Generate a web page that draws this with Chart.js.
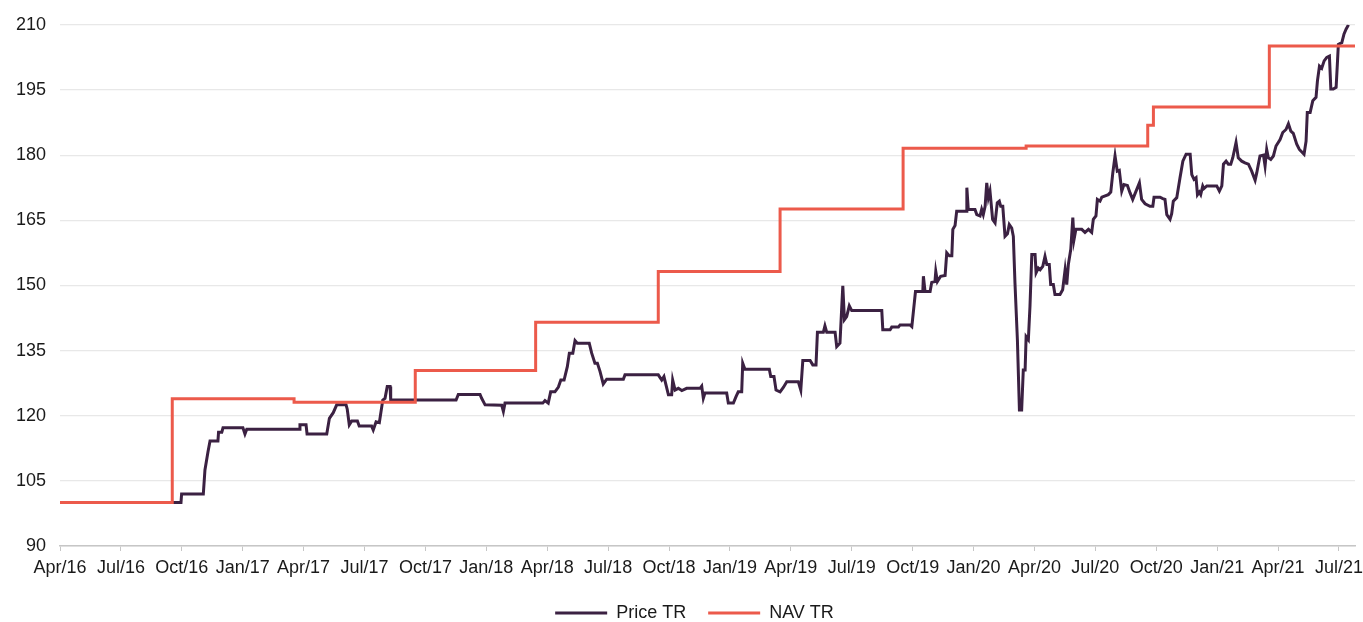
<!DOCTYPE html>
<html>
<head>
<meta charset="utf-8">
<script src="https://cdn.jsdelivr.net/npm/chart.js@4/dist/chart.umd.min.js"></script>
<style>
  html, body { margin: 0; padding: 0; background: #fff; }
  #wrap { width: 1363px; height: 622px; }
</style>
</head>
<body>
<div id="wrap"><canvas id="myChart"></canvas></div>
<script>
// x values are months counted from 1 Apr 2016
const tickLabels = ['Apr/16', 'Jul/16', 'Oct/16', 'Jan/17', 'Apr/17', 'Jul/17', 'Oct/17', 'Jan/18',
  'Apr/18', 'Jul/18', 'Oct/18', 'Jan/19', 'Apr/19', 'Jul/19', 'Oct/19', 'Jan/20', 'Apr/20',
  'Jul/20', 'Oct/20', 'Jan/21', 'Apr/21', 'Jul/21'];

const priceMonths = [
  0, 5.96, 5.99, 7.06, 7.14, 7.29, 7.39, 7.78, 7.81, 7.97,
  8.03, 9.01, 9.11, 9.20, 11.79, 11.82, 12.12, 12.17, 13.14, 13.27,
  13.46, 13.63, 14.09, 14.15, 14.25, 14.37, 14.65, 14.74, 15.35, 15.43,
  15.57, 15.73, 15.90, 16.01, 16.12, 16.26, 16.29, 19.51, 19.62, 20.69,
  20.77, 20.94, 21.76, 21.84, 21.92, 23.78, 23.89, 24.05, 24.17, 24.38,
  24.55, 24.67, 24.83, 24.99, 25.09, 25.26, 25.37, 25.48, 26.07, 26.19,
  26.35, 26.47, 26.60, 26.76, 26.93, 27.75, 27.83, 29.47, 29.64, 29.75,
  29.85, 29.97, 30.13, 30.18, 30.30, 30.46, 30.63, 30.87, 31.53, 31.61,
  31.69, 31.77, 32.84, 32.92, 33.17, 33.30, 33.41, 33.58, 33.63, 33.74,
  34.94, 35.01, 35.17, 35.27, 35.47, 35.63, 35.80, 36.37, 36.49, 36.59,
  36.95, 37.08, 37.24, 37.31, 37.60, 37.68, 37.77, 38.18, 38.26, 38.42,
  38.56, 38.64, 38.75, 38.88, 39.00, 40.48, 40.53, 40.89, 40.97, 41.30,
  41.38, 41.87, 41.96, 42.14, 42.50, 42.53, 42.61, 42.86, 42.94, 43.10,
  43.14, 43.22, 43.38, 43.60, 43.68, 43.81, 43.93, 43.98, 44.09, 44.17,
  44.63, 44.67, 44.74, 45.07, 45.16, 45.32, 45.40, 45.48, 45.57, 45.65,
  45.73, 45.81, 45.94, 46.06, 46.17, 46.27, 46.34, 46.44, 46.55, 46.67,
  46.76, 46.88, 46.96, 47.04, 47.16, 47.26, 47.37, 47.45, 47.54, 47.59,
  47.70, 47.78, 47.87, 48.03, 48.08, 48.19, 48.28, 48.41, 48.52, 48.61,
  48.73, 48.80, 48.93, 49.01, 49.26, 49.39, 49.51, 49.59, 49.67, 49.79,
  49.89, 49.95, 50.04, 50.33, 50.49, 50.66, 50.82, 50.90, 51.03, 51.10,
  51.23, 51.32, 51.64, 51.76, 51.86, 51.97, 52.08, 52.18, 52.30, 52.41,
  52.58, 52.71, 52.84, 53.04, 53.17, 53.28, 53.45, 53.69, 53.83, 53.89,
  54.19, 54.32, 54.43, 54.52, 54.68, 54.76, 54.84, 55.01, 55.17, 55.31,
  55.47, 55.67, 55.75, 55.86, 55.96, 56.03, 56.12, 56.19, 56.29, 56.35,
  56.49, 56.98, 57.11, 57.23, 57.31, 57.44, 57.55, 57.67, 57.77, 57.93,
  58.04, 58.21, 58.37, 58.54, 58.70, 58.87, 58.95, 59.03, 59.11, 59.28,
  59.36, 59.44, 59.52, 59.64, 59.77, 59.90, 60.10, 60.23, 60.39, 60.51,
  60.63, 60.75, 60.92, 61.05, 61.28, 61.38, 61.44, 61.58, 61.71, 61.87,
  61.94, 62.04, 62.15, 62.27, 62.40, 62.53, 62.60, 62.72, 62.86, 62.92,
  62.97, 63.14, 63.25, 63.35, 63.47
];
const priceValues = [
  100, 100, 102.0, 102.0, 107.5, 111.7, 114.2, 114.2, 116.2, 116.2,
  117.2, 117.2, 115.8, 116.9, 116.9, 117.9, 117.9, 115.8, 115.8, 119.4,
  120.7, 122.5, 122.5, 121.5, 117.9, 118.8, 118.8, 117.6, 117.6, 116.7,
  118.6, 118.4, 123.6, 124.0, 126.7, 126.7, 123.6, 123.6, 124.9, 124.9,
  124.0, 122.5, 122.4, 121.0, 122.9, 122.9, 123.5, 122.9, 125.5, 125.5,
  126.6, 128.2, 128.2, 131.3, 134.4, 134.4, 137.3, 136.7, 136.7, 134.4,
  132.1, 132.1, 130.2, 127.3, 128.4, 128.4, 129.4, 129.4, 128.2, 129.0,
  127.1, 124.8, 124.8, 128.2, 125.9, 126.3, 125.8, 126.3, 126.3, 126.8,
  124.0, 125.2, 125.2, 122.9, 122.9, 124.4, 125.5, 125.5, 132.1, 130.7,
  130.7, 129.0, 129.0, 125.9, 125.5, 126.5, 127.8, 127.8, 125.9, 132.7,
  132.7, 131.7, 131.7, 139.2, 139.2, 140.7, 139.2, 139.2, 135.9, 136.7,
  149.9, 142.1, 142.8, 145.3, 144.2, 144.2, 139.8, 139.8, 140.4, 140.4,
  140.9, 140.9, 140.5, 148.6, 148.6, 152.1, 148.6, 148.6, 150.7, 150.9,
  153.2, 150.9, 152.1, 152.3, 157.5, 156.8, 156.8, 162.9, 163.8, 167.1,
  167.1, 172.5, 167.5, 167.5, 166.3, 166.0, 167.5, 166.3, 168.2, 173.6,
  170.2, 171.7, 165.2, 164.4, 169.0, 169.4, 168.2, 168.2, 161.3, 161.9,
  164.0, 163.2, 161.3, 150.6, 137.5, 121.3, 121.3, 130.5, 130.5, 138.2,
  137.5, 145.2, 157.1, 157.1, 152.9, 154.0, 153.6, 154.4, 156.7, 154.8,
  154.8, 150.2, 150.2, 147.9, 147.9, 149.0, 153.6, 150.2, 154.8, 158.3,
  165.6, 160.6, 162.9, 162.9, 162.2, 162.9, 162.2, 165.2, 166.0, 169.8,
  169.4, 170.3, 170.9, 171.5, 175.9, 179.8, 176.3, 176.5, 171.7, 173.2,
  173.0, 171.3, 169.8, 172.1, 173.6, 169.8, 168.8, 168.2, 168.2, 170.3,
  170.3, 170.0, 169.8, 166.3, 165.2, 166.5, 169.4, 170.2, 174.8, 178.6,
  180.2, 180.2, 175.5, 174.4, 174.8, 170.9, 171.5, 170.9, 172.9, 172.3,
  172.9, 172.9, 171.7, 172.9, 177.9, 178.6, 177.9, 177.9, 179.4, 182.9,
  179.4, 178.6, 178.2, 177.9, 176.3, 174.2, 175.9, 177.9, 179.8, 180.0,
  177.5, 181.3, 179.4, 179.0, 179.8, 182.1, 183.6, 185.2, 185.9, 187.2,
  185.5, 185.0, 182.5, 181.3, 180.2, 183.2, 189.8, 189.8, 192.5, 193.3,
  197.1, 200.5, 200.0, 201.7, 202.5, 202.8, 195.2, 195.2, 195.6, 200.9,
  205.5, 205.9, 207.9, 209.0, 210.0
];

// NAV TR is a step series: each entry is the month the new level starts
const navMonths = [0, 5.53, 11.53, 17.50, 23.43, 29.47, 35.47, 41.53, 47.59, 53.58, 53.86, 59.57, 63.79];
const navValues = [100, 123.9, 123.1, 130.4, 141.5, 153.2, 167.6, 181.6, 182.1, 186.9, 191.1, 205.1, 205.1];

const toPoints = (xs, ys) => xs.map((x, i) => ({ x: x, y: ys[i] }));

const font = { family: "'Liberation Sans', Arial, sans-serif", size: 18 };

// legend: keep wide gaps between items but a short box, nudged to the right
const legendTweak = {
  id: 'legendTweak',
  afterInit(chart) {
    const lg = chart.legend;
    const fit = lg.fit;
    lg.fit = function () { fit.call(this); this.height = 40; };
  },
  afterLayout(chart) {
    chart.legend.left += 17;
    chart.legend.right += 17;
  },
};

const ctx = document.getElementById('myChart');
const myChart = new Chart(ctx, {
  type: 'line',
  data: {
    datasets: [
      {
        label: 'Price TR',
        data: toPoints(priceMonths, priceValues),
        borderColor: '#3b2142',
        backgroundColor: '#3b2142',
        borderWidth: 3,
        pointRadius: 0,
        tension: 0,
        order: 1,
      },
      {
        label: 'NAV TR',
        data: toPoints(navMonths, navValues),
        borderColor: '#ec5a4b',
        backgroundColor: '#ec5a4b',
        borderWidth: 3,
        pointRadius: 0,
        stepped: 'before',
        order: 0,
      },
    ],
  },
  options: {
    responsive: true,
    maintainAspectRatio: false,
    animation: false,
    layout: { padding: { top: 22, right: 8, left: 0, bottom: 0 } },
    scales: {
      x: {
        type: 'linear',
        min: 0,
        max: 63.79,
        border: { color: '#c6c6c6', width: 1.5 },
        grid: { display: true, drawOnChartArea: false, drawTicks: true, tickLength: 5, color: '#c6c6c6' },
        ticks: {
          stepSize: 3,
          includeBounds: false,
          autoSkip: false,
          maxRotation: 0,
          color: '#1a1a1a',
          font: font,
          padding: 6,
          callback: (v) => tickLabels[Math.round(v / 3)],
        },
        afterFit: (s) => { s.height = 36; s.paddingLeft = 0; s.paddingRight = 0; },
      },
      y: {
        min: 90,
        max: 210,
        border: { display: false },
        grid: { color: '#e8e8e8', drawTicks: false, lineWidth: 1.2 },
        ticks: { stepSize: 15, color: '#1a1a1a', font: font, padding: 14 },
        afterFit: (s) => { s.width = 60; },
      },
    },
    plugins: {
      tooltip: { enabled: false },
      legend: {
        position: 'bottom',
        labels: {
          font: font,
          color: '#1a1a1a',
          boxWidth: 52,
          boxHeight: 3,
          padding: 22,
          sort: (a, b) => a.datasetIndex - b.datasetIndex,
          generateLabels: (chart) => {
            const items = Chart.defaults.plugins.legend.labels.generateLabels(chart);
            items.forEach((it) => { it.lineWidth = 0; it.fillStyle = it.strokeStyle; });
            return items;
          },
        },
      },
    },
  },
  plugins: [legendTweak],
});
</script>
</body>
</html>
